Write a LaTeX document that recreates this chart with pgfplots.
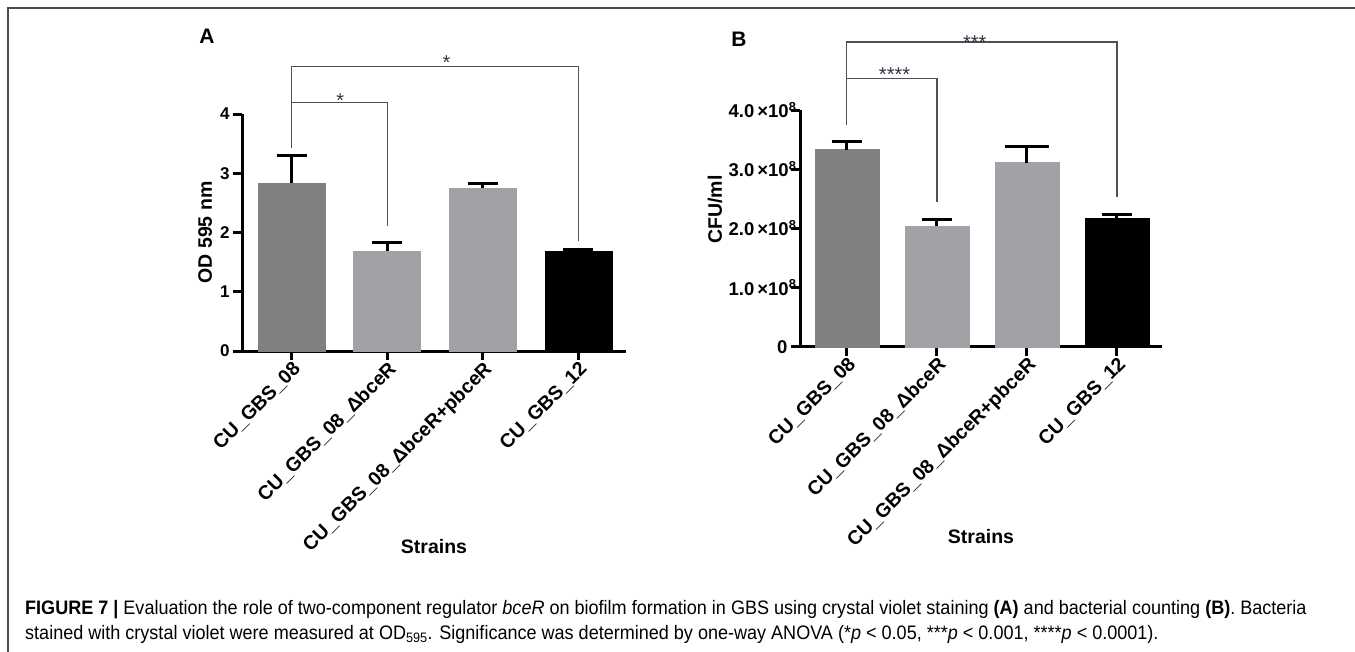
\documentclass[border=0pt]{standalone}
\usepackage{fontspec}
\setmainfont{Liberation Sans}
\newfontfamily\capfont[FakeStretch=0.925]{Liberation Sans}
\usepackage{pgfplots}
\pgfplotsset{compat=1.18}

\definecolor{bardark}{RGB}{128,128,128}
\definecolor{barlight}{RGB}{162,162,166}
\definecolor{brk}{RGB}{80,80,80}
\definecolor{starc}{RGB}{50,50,70}

\newcommand{\lab}{\bfseries\fontsize{19.5pt}{19.5pt}\selectfont}
\newcommand{\tck}{\bfseries\fontsize{17pt}{17pt}\selectfont}
\newcommand{\tckb}{\bfseries\fontsize{18.5pt}{18.5pt}\selectfont}
\newcommand{\strs}{\fontsize{20pt}{20pt}\selectfont}

\pgfplotsset{
  gbs/.style={
    scale only axis,
    anchor=south west,
    ybar, bar shift=0pt,
    axis lines=left,
    axis line style={line width=3pt, -},
    tick style={line width=3pt, black},
    major tick length=9pt,
    tick align=outside,
    xtick={0,1,2,3},
    xticklabels={CU\_GBS\_08, CU\_GBS\_08\_ΔbceR, CU\_GBS\_08\_ΔbceR+pbceR, CU\_GBS\_12},
    xticklabel style={font=\lab, rotate=45, anchor=north east, inner sep=0pt},
    xlabel={Strains},
    label style={font=\lab},
    ymin=0, xmin=-0.52, xmax=3.5,
    clip=false,
  },
  err/.style={error bars/.cd, y dir=plus, y explicit,
    error bar style={line width=3pt, draw=black},
    error mark options={rotate=90, line width=3pt, draw=black, mark size=#1}},
  err/.default=15pt,
}

\begin{document}
\begin{tikzpicture}
\useasboundingbox (0,0) rectangle (1355pt,-652pt);
\draw[line width=1.5pt, gray!60!black] (8pt,-652pt) -- (8pt,-8pt) -- (1355pt,-8pt);

% panel A: crystal violet
\begin{axis}[gbs, at={(242pt,-351pt)}, width=384pt, height=237pt, bar width=67pt,
  ymax=4, ytick={0,1,2,3,4},
  yticklabel style={font=\tck},
  /pgf/number format/assume math mode=true,
  ylabel={OD 595 nm},
  xlabel style={at={(axis description cs:0.5,-0.827)}, anchor=center},
  ylabel style={at={(axis description cs:-0.096,0.5)}, anchor=center},
]
\addplot[fill=bardark, draw=bardark, err] coordinates {(0,2.84) +- (0,0.46)};
\addplot[fill=barlight, draw=barlight, err] coordinates {(1,1.69) +- (0,0.14)};
\addplot[fill=barlight, draw=barlight, err] coordinates {(2,2.75) +- (0,0.07)};
\addplot[fill=black, draw=black, err] coordinates {(3,1.69) +- (0,0.015)};
\draw[brk, line width=1.3pt] (axis cs:0,3.42) |- (axis cs:3,4.80) -- (axis cs:3,1.86);
\draw[brk, line width=1.3pt] (axis cs:0,4.20) -| (axis cs:1,2.11);
\node[anchor=north, inner sep=0pt, font=\strs, text=starc] at (axis cs:0.51,4.34) {*};
\node[anchor=north, inner sep=0pt, font=\strs, text=starc] at (axis cs:1.62,4.98) {*};
\end{axis}
\node[font=\bfseries\fontsize{21pt}{21pt}\selectfont] at (207pt,-36pt) {A};

% panel B: bacterial counts
\begin{axis}[gbs, at={(800pt,-346.7pt)}, width=362pt, height=236.7pt, bar width=64pt,
  ymax=4e8, ytick={0,1e8,2e8,3e8,4e8},
  yticklabels={0\kern9pt,1.0\,×10\textsuperscript{8},2.0\,×10\textsuperscript{8},3.0\,×10\textsuperscript{8},4.0\,×10\textsuperscript{8}},
  yticklabel style={font=\tckb, xshift=9pt},
  ylabel={CFU/ml},
  xlabel style={at={(axis description cs:0.5,-0.804)}, anchor=center},
  ylabel style={at={(axis description cs:-0.235,0.58)}, anchor=center},
  scaled y ticks=false,
]
\addplot[fill=bardark, draw=bardark, err] coordinates {(0,3.33e8) +- (0,0.13e8)};
\addplot[fill=barlight, draw=barlight, err] coordinates {(1,2.04e8) +- (0,0.11e8)};
\addplot[fill=barlight, draw=barlight, err=22pt] coordinates {(2,3.11e8) +- (0,0.27e8)};
\addplot[fill=black, draw=black, err] coordinates {(3,2.18e8) +- (0,0.055e8)};
\draw[brk, line width=1.3pt] (axis cs:0,3.74e8) |- (axis cs:3,5.15e8) -- (axis cs:3,2.53e8);
\draw[brk, line width=1.3pt] (axis cs:0,4.53e8) -| (axis cs:1,2.45e8);
\node[anchor=north, inner sep=0pt, font=\strs, text=starc] at (axis cs:0.53,4.71e8) {****};
\node[anchor=north, inner sep=0pt, font=\strs, text=starc] at (axis cs:1.42,5.25e8) {***};
\end{axis}
\node[font=\bfseries\fontsize{21pt}{21pt}\selectfont] at (739pt,-39.5pt) {B};

% caption
\node[anchor=base west, inner sep=0pt, font=\capfont\fontsize{19.5pt}{19.5pt}\selectfont] at (25pt,-614pt)
  {\textbf{FIGURE 7 |} Evaluation the role of two-component regulator \textit{bceR} on biofilm formation in GBS using crystal violet staining \textbf{(A)} and bacterial counting \textbf{(B)}. Bacteria};
\node[anchor=base west, inner sep=0pt, font=\capfont\fontsize{19.5pt}{19.5pt}\selectfont] at (25pt,-639pt)
  {stained with crystal violet were measured at OD\textsubscript{595}. Significance was determined by one-way ANOVA (*\textit{p} < 0.05, ***\textit{p} < 0.001, ****\textit{p} < 0.0001).};
\end{tikzpicture}
\end{document}
